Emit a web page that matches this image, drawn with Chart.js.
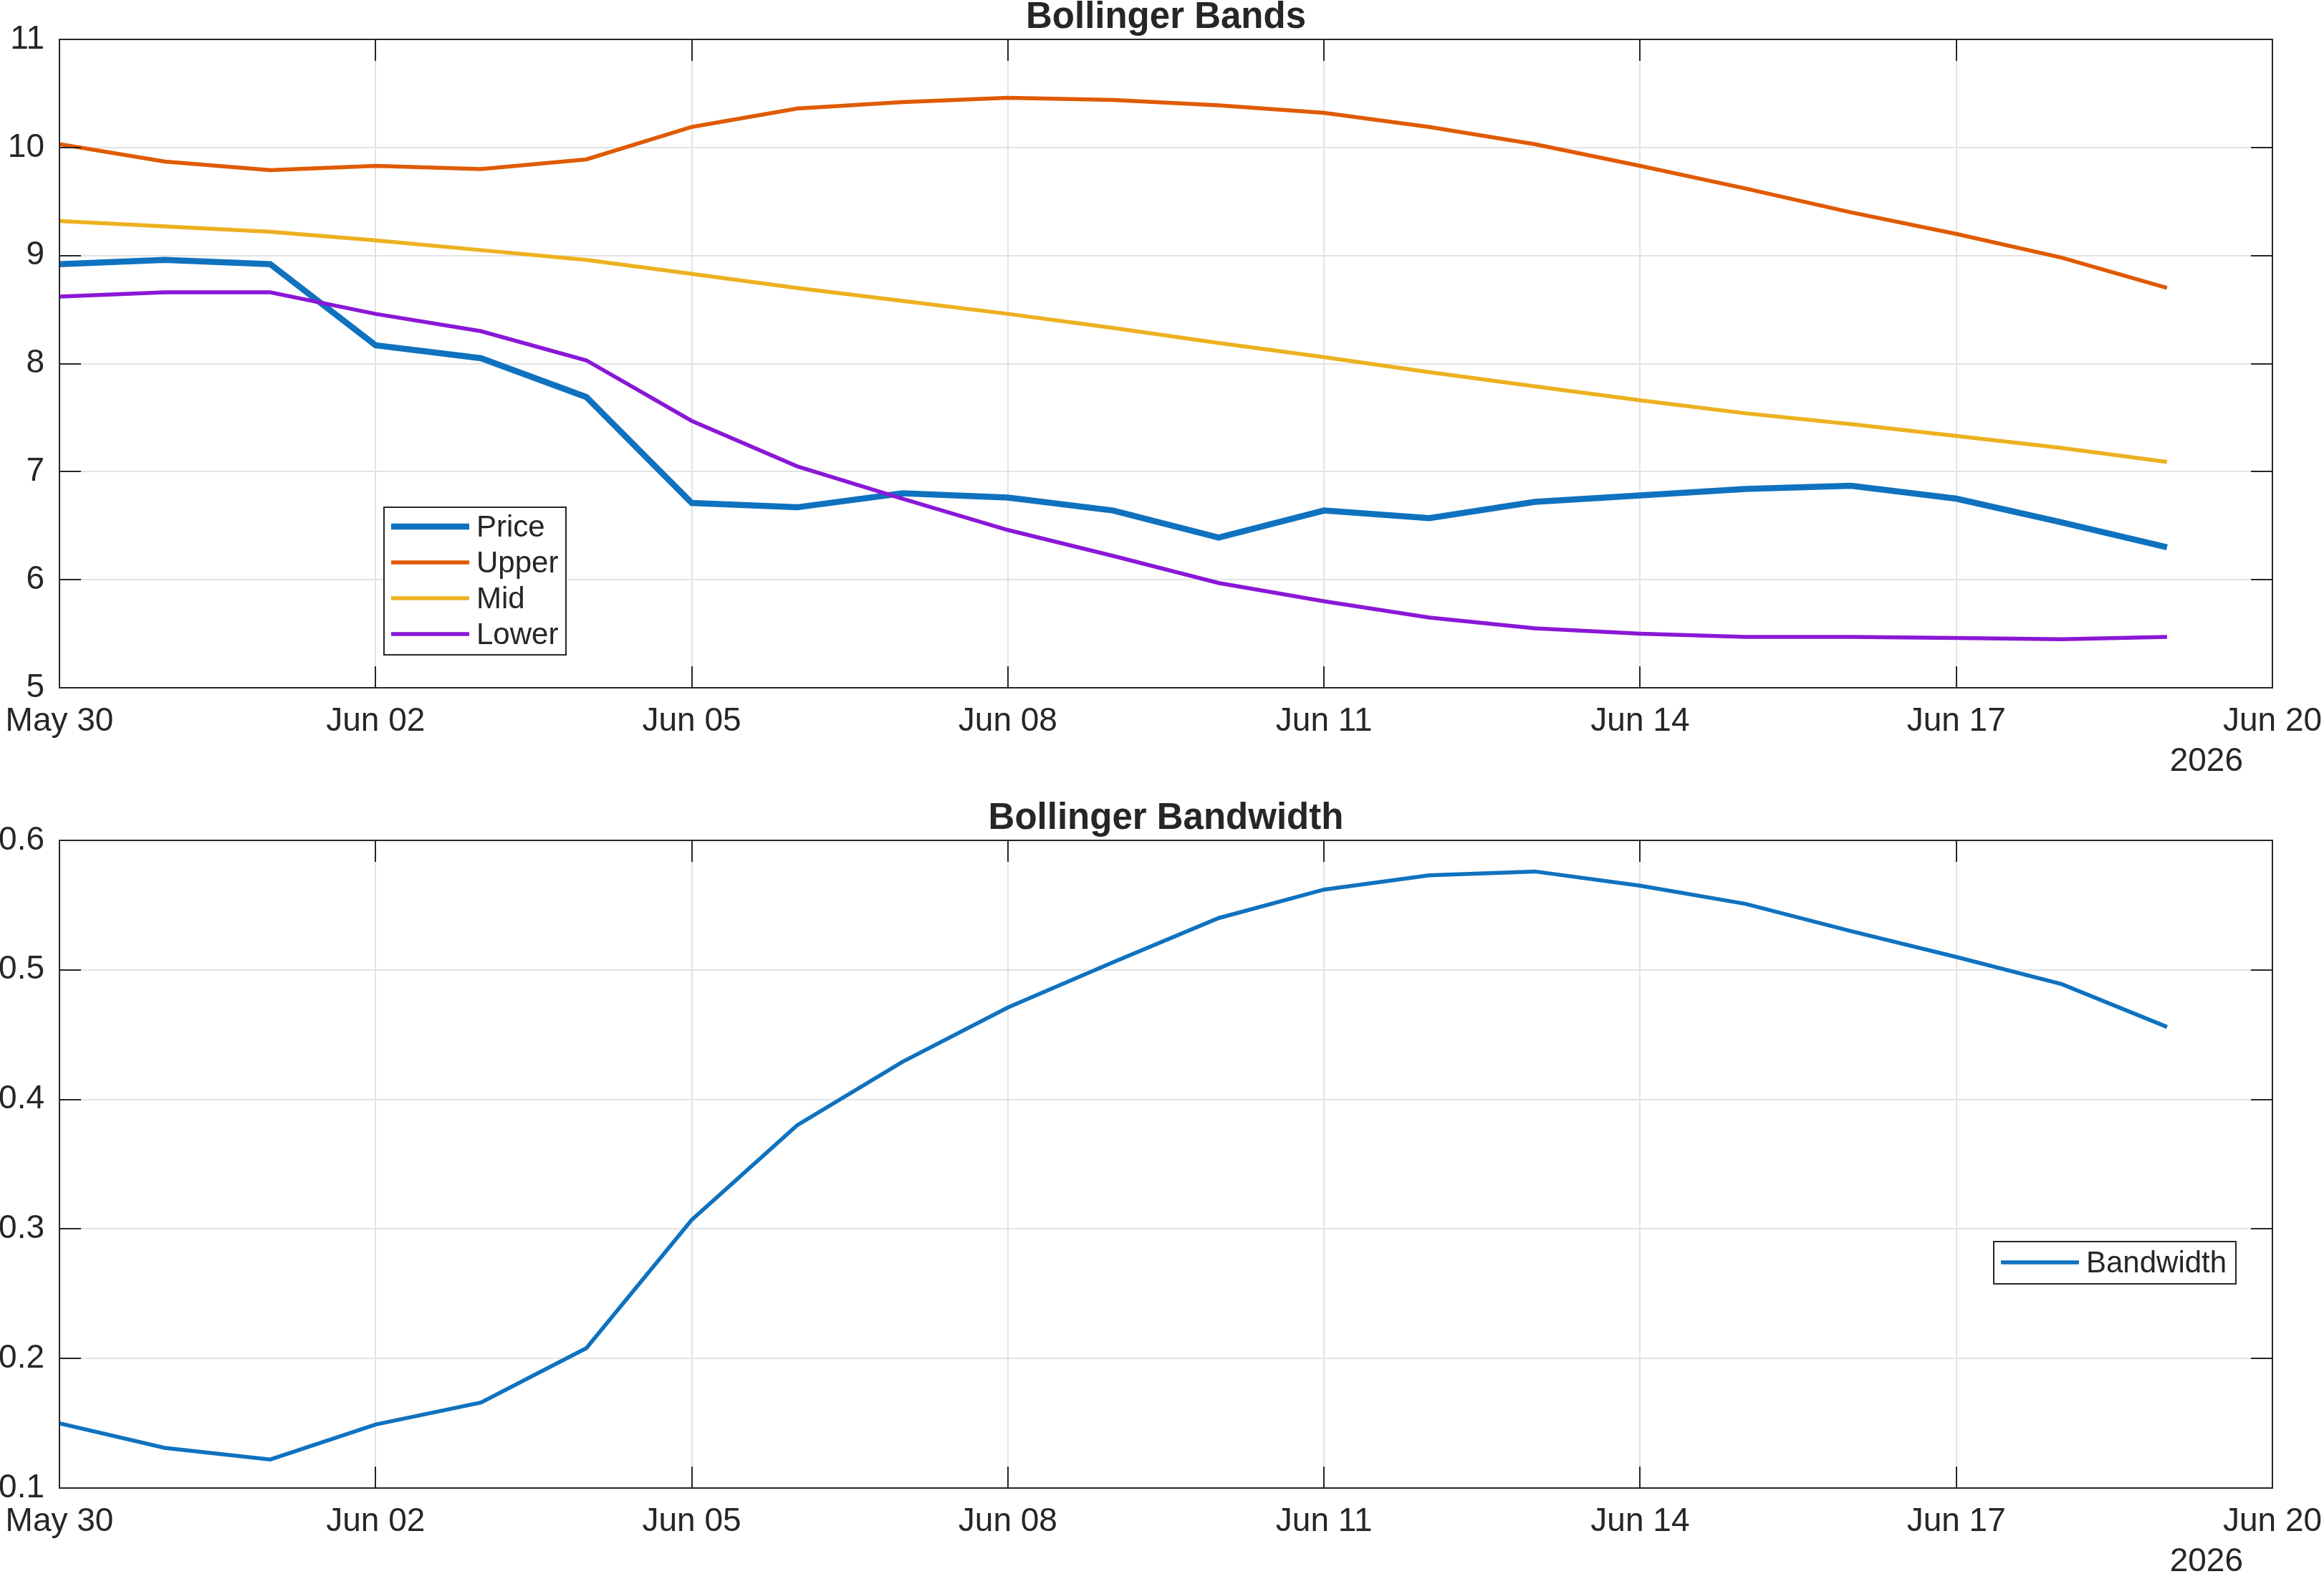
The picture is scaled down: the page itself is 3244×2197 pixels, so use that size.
<!DOCTYPE html>
<html>
<head>
<meta charset="utf-8">
<title>Bollinger Bands</title>
<script src="https://cdn.jsdelivr.net/npm/chart.js@4.4.1/dist/chart.umd.min.js"></script>
<style>
  html, body { margin: 0; padding: 0; background: #fff; }
  body { width: 3244px; height: 2197px; position: relative; overflow: hidden; }
  canvas { position: absolute; left: 0; }
  #bands-chart { top: 0; }
  #width-chart { top: 1100px; }
</style>
</head>
<body>
<canvas id="bands-chart" width="3244" height="1100"></canvas>
<canvas id="width-chart" width="3244" height="1097"></canvas>
<script>
// ---- data ----
const dates = [
    '2026-05-30', '2026-05-31', '2026-06-01', '2026-06-02', '2026-06-03', '2026-06-04', '2026-06-05',
    '2026-06-06', '2026-06-07', '2026-06-08', '2026-06-09', '2026-06-10', '2026-06-11', '2026-06-12',
    '2026-06-13', '2026-06-14', '2026-06-15', '2026-06-16', '2026-06-17', '2026-06-18', '2026-06-19'
];
const price = [8.92, 8.96, 8.92, 8.17, 8.05, 7.69, 6.71, 6.67, 6.80, 6.76, 6.64, 6.39, 6.64, 6.57, 6.72, 6.78, 6.84, 6.87, 6.75, 6.53, 6.30];
const upper = [10.03, 9.87, 9.79, 9.83, 9.80, 9.89, 10.19, 10.36, 10.42, 10.46, 10.44, 10.39, 10.32, 10.19, 10.03, 9.83, 9.62, 9.40, 9.20, 8.98, 8.70];
const mid = [9.32, 9.27, 9.22, 9.14, 9.05, 8.96, 8.83, 8.70, 8.58, 8.46, 8.33, 8.19, 8.06, 7.92, 7.79, 7.66, 7.54, 7.44, 7.33, 7.22, 7.09];
const lower = [8.62, 8.66, 8.66, 8.46, 8.30, 8.03, 7.47, 7.05, 6.75, 6.46, 6.22, 5.97, 5.80, 5.65, 5.55, 5.50, 5.47, 5.47, 5.46, 5.45, 5.47];
const bandwidth = [0.150, 0.131, 0.122, 0.149, 0.166, 0.208, 0.307, 0.380, 0.429, 0.471, 0.506, 0.540, 0.562, 0.573, 0.576, 0.565, 0.551, 0.530, 0.510, 0.489, 0.456];

const xTickLabels = ['May 30', 'Jun 02', 'Jun 05', 'Jun 08', 'Jun 11', 'Jun 14', 'Jun 17', 'Jun 20'];
const xTickStep = 3; // days between date ticks
const yearLabel = '2026';
const bandTicks = [5, 6, 7, 8, 9, 10, 11];
const bandTickLabels = ['5', '6', '7', '8', '9', '10', '11'];
const widthTicks = [0.1, 0.2, 0.3, 0.4, 0.5, 0.6];
const widthTickLabels = ['0.1', '0.2', '0.3', '0.4', '0.5', '0.6'];

// ---- look ----
const AXIS_COLOR = '#262626';
const GRID_COLOR = '#e3e3e3';
const FONT = "'Liberation Sans', Arial, Helvetica, sans-serif";
const TICK_LEN = 30;

Chart.defaults.font.family = FONT;
Chart.defaults.color = AXIS_COLOR;

const dayMs = 86400000;
const dayIndex = (d) => (Date.parse(d) - Date.parse(dates[0])) / dayMs;
const toPoints = (values) => values.map((v, i) => ({ x: dayIndex(dates[i]), y: v }));

// MATLAB-like frame: box, inward ticks, title, year label, boxed legend
const matlabAxes = {
    id: 'matlabAxes',
    afterDraw(chart, args, opts) {
        const ctx = chart.ctx;
        const area = chart.chartArea;
        const xs = chart.scales.x;
        const ys = chart.scales.y;

        ctx.save();
        ctx.strokeStyle = AXIS_COLOR;
        ctx.lineWidth = 2;
        ctx.beginPath();
        xs.ticks.forEach(t => {
            const px = Math.round(xs.getPixelForValue(t.value));
            ctx.moveTo(px, area.bottom);
            ctx.lineTo(px, area.bottom - TICK_LEN);
            ctx.moveTo(px, area.top);
            ctx.lineTo(px, area.top + TICK_LEN);
        });
        ys.ticks.forEach(t => {
            const py = Math.round(ys.getPixelForValue(t.value));
            ctx.moveTo(area.left, py);
            ctx.lineTo(area.left + TICK_LEN, py);
            ctx.moveTo(area.right, py);
            ctx.lineTo(area.right - TICK_LEN, py);
        });
        ctx.stroke();
        ctx.strokeRect(area.left, area.top, area.right - area.left, area.bottom - area.top);

        // title
        ctx.fillStyle = AXIS_COLOR;
        ctx.font = 'bold 51px ' + FONT;
        ctx.textAlign = 'center';
        ctx.textBaseline = 'alphabetic';
        ctx.fillText(opts.title, (area.left + area.right) / 2, area.top - 16);

        // secondary date label under the last tick
        ctx.font = '46px ' + FONT;
        ctx.textAlign = 'right';
        ctx.fillText(yearLabel, xs.getPixelForValue(xs.max) - 41, area.bottom + 116);

        // legend
        const lg = opts.legend;
        ctx.fillStyle = '#ffffff';
        ctx.fillRect(lg.x, lg.y, lg.w, lg.h);
        ctx.strokeStyle = AXIS_COLOR;
        ctx.lineWidth = 2;
        ctx.strokeRect(lg.x, lg.y, lg.w, lg.h);
        ctx.font = '42px ' + FONT;
        ctx.textAlign = 'left';
        ctx.textBaseline = 'middle';
        lg.items.forEach((idx, i) => {
            const ds = chart.data.datasets[idx];
            const ry = lg.y + lg.first + i * lg.row;
            ctx.strokeStyle = ds.borderColor;
            ctx.lineWidth = ds.borderWidth;
            ctx.beginPath();
            ctx.moveTo(lg.x + 10, ry);
            ctx.lineTo(lg.x + 119, ry);
            ctx.stroke();
            ctx.fillStyle = AXIS_COLOR;
            ctx.fillText(ds.label, lg.x + 129, ry + 2);
        });
        ctx.restore();
    }
};

function makeChart(canvasId, datasets, cfg) {
    const canvas = document.getElementById(canvasId);
    const tickFont = { size: 46 };
    return new Chart(canvas, {
        type: 'line',
        data: { datasets },
        plugins: [matlabAxes],
        options: {
            responsive: false,
            animation: false,
            devicePixelRatio: 1,
            layout: {
                autoPadding: false,
                padding: { top: cfg.top, right: canvas.width - 3172, left: 0, bottom: 0 }
            },
            elements: {
                point: { radius: 0 },
                line: { tension: 0, fill: false }
            },
            scales: {
                x: {
                    type: 'linear',
                    min: 0,
                    max: (xTickLabels.length - 1) * xTickStep,
                    afterBuildTicks: (s) => { s.ticks = xTickLabels.map((_, i) => ({ value: i * xTickStep })); },
                    ticks: {
                        autoSkip: false,
                        maxRotation: 0,
                        padding: 20,
                        font: tickFont,
                        color: AXIS_COLOR,
                        callback: (v, i) => xTickLabels[i]
                    },
                    grid: { color: GRID_COLOR, lineWidth: 2, drawTicks: false },
                    border: { display: false },
                    afterFit: (s) => {
                        s.height = canvas.height - cfg.bottom;
                        s.paddingLeft = 0;
                        s.paddingRight = 0;
                    }
                },
                y: {
                    min: cfg.yTicks[0],
                    max: cfg.yTicks[cfg.yTicks.length - 1],
                    afterBuildTicks: (s) => { s.ticks = cfg.yTicks.map(v => ({ value: v })); },
                    ticks: {
                        padding: 21,
                        font: tickFont,
                        color: AXIS_COLOR,
                        callback: (v, i) => cfg.yTickLabels[i]
                    },
                    grid: { color: GRID_COLOR, lineWidth: 2, drawTicks: false },
                    border: { display: false },
                    afterFit: (s) => {
                        s.width = 83;
                        s.paddingTop = 0;
                        s.paddingBottom = 0;
                    }
                }
            },
            plugins: {
                legend: { display: false },
                tooltip: { enabled: false },
                matlabAxes: { title: cfg.title, legend: cfg.legend }
            }
        }
    });
}

// later series sit on top, as in the original plot order
makeChart('bands-chart', [
    { label: 'Price', data: toPoints(price), borderColor: '#0f72bf', borderWidth: 8.5, order: 3 },
    { label: 'Upper', data: toPoints(upper), borderColor: '#e05a00', borderWidth: 5.5, order: 2 },
    { label: 'Mid', data: toPoints(mid), borderColor: '#edb120', borderWidth: 5.5, order: 1 },
    { label: 'Lower', data: toPoints(lower), borderColor: '#8a17d6', borderWidth: 5.5, order: 0 }
], {
    title: 'Bollinger Bands',
    top: 55,
    bottom: 960,
    yTicks: bandTicks,
    yTickLabels: bandTickLabels,
    legend: { x: 536, y: 708, w: 254, h: 206, first: 27, row: 50, items: [0, 1, 2, 3] }
});

makeChart('width-chart', [
    { label: 'Bandwidth', data: toPoints(bandwidth), borderColor: '#0f72bf', borderWidth: 5.5 }
], {
    title: 'Bollinger Bandwidth',
    top: 73,
    bottom: 977,
    yTicks: widthTicks,
    yTickLabels: widthTickLabels,
    legend: { x: 2783, y: 633, w: 338, h: 59, first: 29, row: 50, items: [0] }
});
</script>
</body>
</html>
